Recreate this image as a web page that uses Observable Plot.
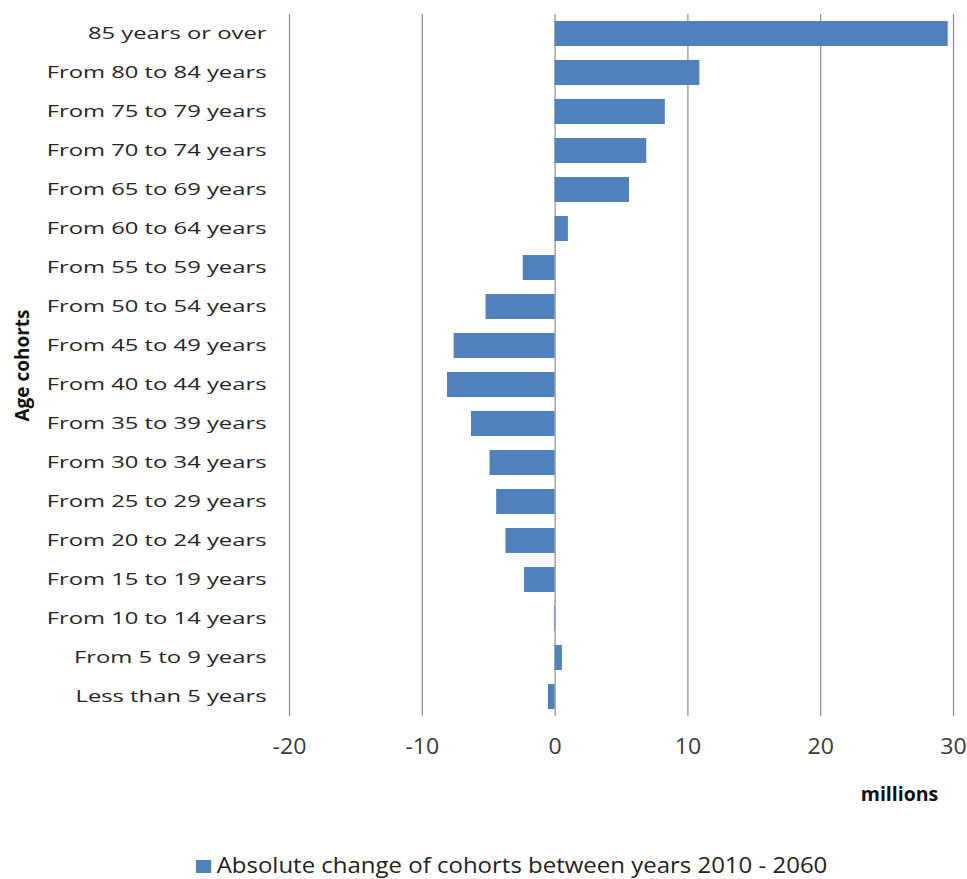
<!DOCTYPE html>
<html>
<head>
<meta charset="utf-8">
<script src="https://cdn.jsdelivr.net/npm/d3@7"></script>
<script src="https://cdn.jsdelivr.net/npm/@observablehq/plot@0.6"></script>
<style>
  html, body { margin: 0; padding: 0; background: #fff; }
  #chart svg { display: block; }
  #legend { font-family: "Open Sans", sans-serif; font-size: 22px; color: #222; text-align: center; height: 64px; box-sizing: border-box; padding-top: 34px; line-height: 30px; padding-left: 56px; white-space: nowrap; }
  #legend .inner { display: inline-block; transform: scaleX(1.09); transform-origin: center; }
  #legend .sw { display: inline-block; width: 14px; height: 13px; background: #4F81BD; margin-right: 5px; vertical-align: baseline; }
</style>
</head>
<body>
<div id="chart"></div>
<div id="legend"><span class="inner"><span class="sw"></span><span id="legend-text"></span></span></div>
<script>
const categories = [
  "85 years or over",
  "From 80 to 84 years",
  "From 75 to 79 years",
  "From 70 to 74 years",
  "From 65 to 69 years",
  "From 60 to 64 years",
  "From 55 to 59 years",
  "From 50 to 54 years",
  "From 45 to 49 years",
  "From 40 to 44 years",
  "From 35 to 39 years",
  "From 30 to 34 years",
  "From 25 to 29 years",
  "From 20 to 24 years",
  "From 15 to 19 years",
  "From 10 to 14 years",
  "From 5 to 9 years",
  "Less than 5 years"
];
const values = [29.6, 10.9, 8.3, 6.9, 5.6, 1.0, -2.4, -5.2, -7.6, -8.1, -6.3, -4.9, -4.4, -3.7, -2.3, -0.05, 0.55, -0.5];
const xTicks = [-20, -10, 0, 10, 20, 30];
const seriesName = "Absolute change of cohorts between years 2010 - 2060";
const yTitle = "Age cohorts";
const xTitle = "millions";

const data = categories.map((c, i) => ({category: c, value: values[i]}));

const chart = Plot.plot({
  width: 967,
  height: 815,
  marginTop: 14,
  marginBottom: 99,
  marginLeft: 289,
  marginRight: 14,
  style: {fontFamily: "'Open Sans', sans-serif", background: "#fff"},
  x: {domain: [-20, 30], ticks: xTicks},
  y: {domain: categories, paddingInner: 0.37, paddingOuter: 0.185},
  marks: [
    Plot.gridX(xTicks, {stroke: "#8c8c8c", strokeOpacity: 1, strokeWidth: 1.2}),
    Plot.barX(data, {x: "value", y: "category", fill: "#4F81BD"}),
    Plot.axisX({ticks: xTicks, tickSize: 0, tickPadding: 23, fontSize: 21, fill: "#3a3a3a", label: null, tickFormat: d => String(d)}),
    Plot.axisY({tickSize: 0, tickPadding: 23, fontSize: 17, fill: "#262626", label: null}),
    Plot.text([yTitle], {frameAnchor: "left", dx: -267, rotate: -90, textAnchor: "middle", lineAnchor: "middle", fontSize: 19, fontWeight: "bold", fill: "#111"}),
    Plot.text([xTitle], {frameAnchor: "bottom-right", dx: -54, dy: 78, textAnchor: "middle", lineAnchor: "middle", fontSize: 19.5, fontWeight: "bold", fill: "#111"})
  ]
});

// stretch text horizontally around its anchor to match the reference's wide lettering
function stretch(sel, s) {
  d3.select(chart).selectAll(sel).each(function () {
    const el = d3.select(this);
    const ax = +el.attr("x") || 0;
    const t = el.attr("transform") || "";
    el.attr("transform", `${t} translate(${ax},0) scale(${s},1) translate(${-ax},0)`);
  });
}
stretch('g[aria-label="y-axis tick label"] text', 1.4);
stretch('g[aria-label="x-axis tick label"] text', 1.1);

document.getElementById("chart").appendChild(chart);
document.getElementById("legend-text").textContent = seriesName;
</script>
</body>
</html>
